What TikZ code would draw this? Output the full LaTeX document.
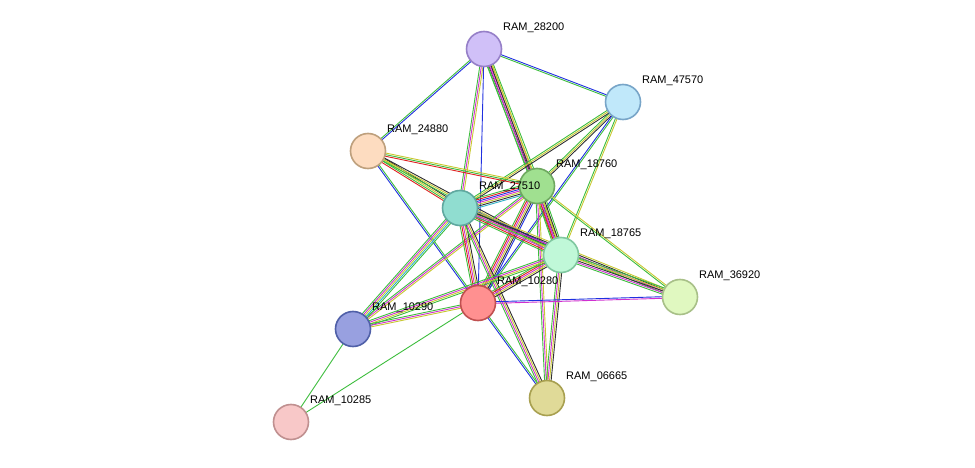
\documentclass[tikz,border=0pt]{standalone}
\usepackage{fontspec}
\setmainfont{Liberation Sans}
\usetikzlibrary{calc}

% evidence colours
\definecolor{cnbh}{HTML}{3DBD3D}
\definecolor{cfus}{HTML}{E02020}
\definecolor{cocc}{HTML}{2030E0}
\definecolor{cexp}{HTML}{D030D0}
\definecolor{ctxt}{HTML}{C8C830}
\definecolor{ccoe}{HTML}{303030}
\definecolor{cdbs}{HTML}{30B0C8}

\tikzset{
  prot/.style={circle, minimum size=35pt, inner sep=0pt, line width=1.6pt},
  plabel/.style={anchor=west, font=\fontsize{11}{13}\selectfont, inner sep=1pt},
  link/.style={line width=0.9pt}
}

% multi-coloured link between two proteins
\newcommand\plink[3]{%
  \foreach \c [count=\i] in {#3} {
    \pgfmathsetmacro\o{(\i-0.5*(#1+1))*1.6}
    \draw[link,\c] ($(#2)!\o pt!90:(#2x)$) -- ($(#2x)!\o pt!-90:(#2)$);
  }%
}
\newcommand\edge[4]{%
  \foreach \c [count=\i] in {#4} {
    \pgfmathsetmacro\o{(\i-0.5*(#1+1))*1.6}
    \draw[link,\c] ($(#2)!\o pt!90:(#3)$) -- ($(#3)!\o pt!-90:(#2)$);
  }%
}

\begin{document}
\begin{tikzpicture}[x=1pt,y=-1pt]
\useasboundingbox (0,0) rectangle (975,468);

% protein positions
\coordinate (p28200) at (484,49);
\coordinate (p47570) at (623,102);
\coordinate (p24880) at (368,151);
\coordinate (p18760) at (537,186);
\coordinate (p27510) at (460,208);
\coordinate (p18765) at (561,255);
\coordinate (p36920) at (680,297);
\coordinate (p10280) at (478,303);
\coordinate (p10290) at (353,329);
\coordinate (p10285) at (291,422);
\coordinate (p06665) at (547,398);

% links
\edge{2}{p28200}{p47570}{cnbh,cocc}
\edge{2}{p28200}{p24880}{cnbh,cocc}
\edge{5}{p28200}{p18760}{cnbh,ccoe,cexp,ctxt,cnbh}
\edge{3}{p28200}{p27510}{cnbh,cexp,ctxt}
\edge{4}{p28200}{p18765}{cnbh,cexp,ccoe,ctxt}
\edge{1}{p28200}{p10280}{cocc}
\edge{3}{p47570}{p18760}{cnbh,ctxt,ccoe}
\edge{3}{p47570}{p27510}{cnbh,ctxt,ccoe}
\edge{2}{p47570}{p18765}{cnbh,ctxt}
\edge{2}{p47570}{p10280}{cocc,cnbh}
\edge{4}{p24880}{p27510}{cfus,cnbh,ctxt,ccoe}
\edge{3}{p24880}{p18760}{cfus,cnbh,ctxt}
\edge{3}{p24880}{p18765}{cnbh,ctxt,ccoe}
\edge{2}{p24880}{p10280}{cocc,cnbh}
\edge{7}{p18760}{p27510}{cnbh,cfus,cocc,cexp,ctxt,ccoe,cdbs}
\edge{6}{p18760}{p18765}{cnbh,cfus,cexp,ctxt,ccoe,cnbh}
\edge{2}{p18760}{p36920}{cnbh,ctxt}
\edge{6}{p18760}{p10280}{cnbh,cfus,cexp,ctxt,ccoe,cocc}
\edge{3}{p18760}{p10290}{cnbh,cexp,ctxt}
\edge{3}{p18760}{p06665}{cnbh,cexp,ctxt}
\edge{6}{p27510}{p18765}{cnbh,cfus,cexp,ctxt,ccoe,cocc}
\edge{4}{p27510}{p36920}{cnbh,cexp,ccoe,ctxt}
\edge{5}{p27510}{p10280}{cnbh,cfus,cexp,ctxt,ccoe}
\edge{5}{p27510}{p10290}{cnbh,cexp,ctxt,cdbs,cnbh}
\edge{4}{p27510}{p06665}{cnbh,cexp,ctxt,ccoe}
\edge{5}{p18765}{p36920}{cnbh,cexp,ccoe,ctxt,cnbh}
\edge{5}{p18765}{p10280}{cnbh,cfus,cexp,ctxt,ccoe}
\edge{4}{p18765}{p10290}{cnbh,cexp,ctxt,cnbh}
\edge{4}{p18765}{p06665}{cnbh,cexp,ctxt,ccoe}
\edge{2}{p10280}{p36920}{cexp,cocc}
\edge{3}{p10280}{p10290}{cnbh,cexp,ctxt}
\edge{2}{p10280}{p06665}{cocc,cnbh}
\edge{1}{p10280}{p10285}{cnbh}
\edge{1}{p10290}{p10285}{cnbh}

% proteins
\node[prot, fill={rgb,255:red,208;green,192;blue,248}, draw={rgb,255:red,150;green,128;blue,200}] (n28200) at (p28200) {};
\node[prot, fill={rgb,255:red,192;green,232;blue,250}, draw={rgb,255:red,120;green,165;blue,200}] (n47570) at (p47570) {};
\node[prot, fill={rgb,255:red,253;green,220;blue,192}, draw={rgb,255:red,190;green,160;blue,125}] (n24880) at (p24880) {};
\node[prot, fill={rgb,255:red,160;green,224;blue,144}, draw={rgb,255:red,110;green,168;blue,96}] (n18760) at (p18760) {};
\node[prot, fill={rgb,255:red,144;green,221;blue,208}, draw={rgb,255:red,96;green,168;blue,160}] (n27510) at (p27510) {};
\node[prot, fill={rgb,255:red,192;green,248;blue,216}, draw={rgb,255:red,128;green,200;blue,160}] (n18765) at (p18765) {};
\node[prot, fill={rgb,255:red,224;green,248;blue,192}, draw={rgb,255:red,168;green,192;blue,136}] (n36920) at (p36920) {};
\node[prot, fill={rgb,255:red,255;green,144;blue,144}, draw={rgb,255:red,192;green,80;blue,80}] (n10280) at (p10280) {};
\node[prot, fill={rgb,255:red,152;green,160;blue,224}, draw={rgb,255:red,80;green,96;blue,168}] (n10290) at (p10290) {};
\node[prot, fill={rgb,255:red,248;green,200;blue,200}, draw={rgb,255:red,192;green,144;blue,144}] (n10285) at (p10285) {};
\node[prot, fill={rgb,255:red,224;green,218;blue,152}, draw={rgb,255:red,168;green,160;blue,80}] (n06665) at (p06665) {};

% labels
\foreach \n in {28200,47570,24880,18760,27510,18765,36920,10280,10290,10285,06665}
  \node[plabel] at ($(p\n)+(18,-21)$) {RAM\_\n};
\end{tikzpicture}
\end{document}
